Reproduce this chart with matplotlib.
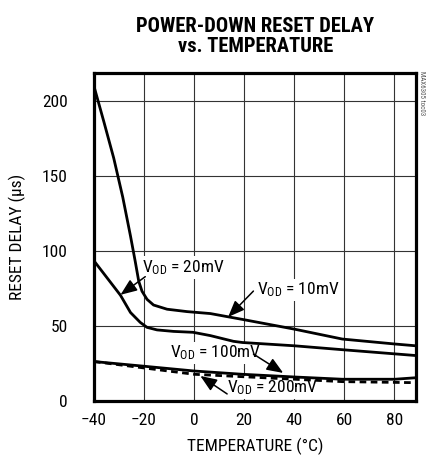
import matplotlib
matplotlib.use("Agg")
import matplotlib.pyplot as plt
from matplotlib import font_manager

names = {f.name for f in font_manager.fontManager.ttflist}
def pick(cands):
    for c in cands:
        if c in names:
            return c
    return 'DejaVu Sans'

FONT = pick(['Liberation Sans Narrow', 'Arial Narrow', 'Roboto Condensed', 'Archivo Narrow',
             'Barlow Semi Condensed', 'Asap Condensed', 'Liberation Sans'])
TFONT = pick(['Roboto Condensed', 'Liberation Sans Narrow', 'Archivo Narrow', 'Barlow Condensed',
              'Asap Condensed', 'Liberation Sans'])
plt.rcParams['font.family'] = [FONT, 'DejaVu Sans']
plt.rcParams['mathtext.fontset'] = 'custom'
plt.rcParams['mathtext.rm'] = FONT
plt.rcParams['mathtext.it'] = FONT

# ---- data ----
x_10 = [-40, -36, -32.1, -28.5, -25.4, -23.5, -22.1, -20.8, -18.8, -16.2, -10.8, -2.8, 6.5,
        19.3, 40.1, 59.2, 80.2, 88.6]
y_10 = [210, 186, 162, 136, 110, 93, 79.8, 73.2, 67.8, 64, 61.2, 59.6, 58.3,
        54.4, 47.9, 41.3, 38, 36.8]

x_20 = [-40, -29.4, -25.4, -21.5, -18.8, -14.8, -8.2, -0.4, 6.5, 15.7, 19.3, 40.1, 59.2, 88.6]
y_20 = [93.5, 70.5, 59, 52.4, 49.1, 47.4, 46.4, 45.8, 43.6, 39.8, 39, 36.8, 34.2, 30.3]

x_100 = [-40, -20.8, 0, 19.3, 40.1, 59.2, 80.2, 88.6]
y_100 = [26.3, 23.3, 20, 17.8, 16, 14.5, 14.5, 15.5]

x_200 = [-40, -20.8, 0, 19.3, 40.1, 59.2, 88.6]
y_200 = [26.3, 22.2, 17.8, 16.2, 14.5, 12.9, 12.2]

x_ticks = [-40, -20, 0, 20, 40, 60, 80]
y_ticks = [0, 50, 100, 150, 200]

fig = plt.figure(figsize=(4.27, 4.58), dpi=100)
ax = fig.add_axes([0.220, 0.1245, 0.754, 0.716])

ax.set_xlim(-40, 88.6)
ax.set_ylim(0, 218.7)
ax.set_xticks(x_ticks)
ax.set_yticks(y_ticks)
ax.grid(True, color='#333333', linewidth=0.8, zorder=0.5)
ax.set_axisbelow(True)
ax.tick_params(length=0, labelsize=12.5)
ax.tick_params(axis='y', pad=19)
ax.tick_params(axis='x', pad=9)
for s in ax.spines.values():
    s.set_linewidth(2.3)
    s.set_color('black')

lw = 2.0
ax.plot(x_10, y_10, color='black', lw=lw, zorder=3)
ax.plot(x_20, y_20, color='black', lw=lw, zorder=3)
ax.plot(x_100, y_100, color='black', lw=lw, zorder=3)
ax.plot(x_200, y_200, color='black', lw=lw, dashes=(2.4, 1.6), zorder=3)

bbox = dict(boxstyle='square,pad=0.1', fc='white', ec='none')
arrow = dict(arrowstyle='-|>,head_length=1.0,head_width=0.4', color='black', lw=1.1,
             shrinkA=0, shrinkB=0)

def label(txt, tx, ty, ax_tail, ay_tail, ax_tip, ay_tip):
    ax.annotate('', xy=(ax_tip, ay_tip), xytext=(ax_tail, ay_tail), arrowprops=arrow, zorder=4)
    ax.text(tx, ty, txt, fontsize=12.5, ha='left', va='center', bbox=bbox, zorder=2)

label(r'V$_{\mathrm{OD}}$ = 20mV', -20.8, 89, -19.5, 82.9, -29.4, 70.8)
label(r'V$_{\mathrm{OD}}$ = 10mV', 25.2, 74, 23.7, 73.3, 13.6, 56)
label(r'V$_{\mathrm{OD}}$ = 100mV', -9.5, 32, 23.7, 31.3, 35.6, 18.7)
label(r'V$_{\mathrm{OD}}$ = 200mV', 13.2, 9, 13.2, 4.7, 2.5, 16.7)

ax.set_xlabel('TEMPERATURE (°C)', fontsize=12.5, labelpad=7)
ax.set_ylabel('RESET DELAY (µs)', fontsize=12.5, labelpad=11)

fig.text(0.598, 0.962, 'POWER-DOWN RESET DELAY\nvs. TEMPERATURE', ha='center', va='top',
         fontsize=14.8, fontweight='bold', family=[TFONT, 'DejaVu Sans'], linespacing=1.05)
fig.text(0.986, 0.845, 'MAX6305 toc03', rotation=270, ha='center', va='top', fontsize=5,
         color='#555555')

fig.savefig('out.png', dpi=100)
